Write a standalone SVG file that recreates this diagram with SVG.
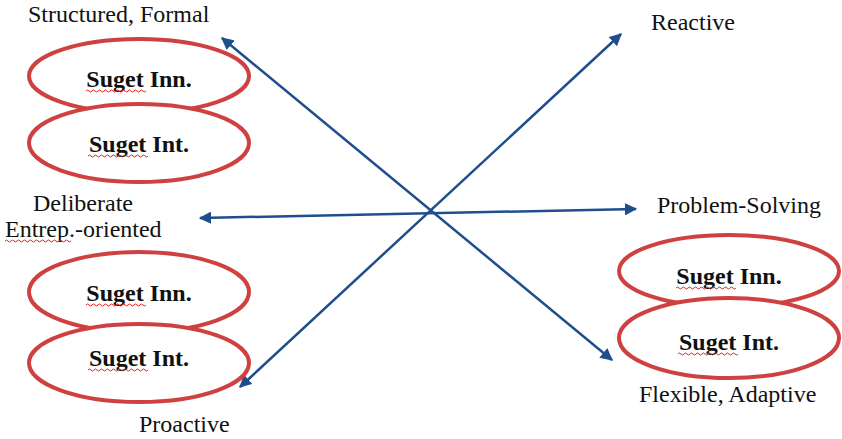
<svg xmlns="http://www.w3.org/2000/svg" width="842" height="439" viewBox="0 0 842 439">
<style>
.lbl{font-family:"Liberation Serif","Times New Roman",serif;font-size:24px;fill:#111}
.nt{font-family:"Liberation Serif","Times New Roman",serif;font-size:24px;font-weight:bold;fill:#111;text-anchor:middle}
.ell{fill:#fff;stroke:#CF4141;stroke-width:4}
.wav{fill:none;stroke:#E02020;stroke-width:1}
.con{stroke:#1E4E8C;stroke-width:2.5;fill:none;marker-start:url(#ah);marker-end:url(#ah)}
</style>
<defs>
<marker id="ah" viewBox="0 0 10 10" refX="9" refY="5" markerWidth="5" markerHeight="5" orient="auto-start-reverse" markerUnits="strokeWidth">
<path d="M0,0 L10,5 L0,10 z" fill="#1E4E8C"/>
</marker>
<path id="wv" d="M0,0 q1.5,-2 3,0 t3,0 t3,0 t3,0 t3,0 t3,0 t3,0 t3,0 t3,0 t3,0 t3,0 t3,0 t3,0 t3,0 t3,0 t3,0 t3,0 t3,0 t3,0 t3,0" class="wav"/>
<path id="wv2" d="M0,0 q1.5,-2 3,0 t3,0 t3,0 t3,0 t3,0 t3,0 t3,0 t3,0 t3,0 t3,0 t3,0 t3,0 t3,0 t3,0 t3,0 t3,0 t3,0 t3,0 t3,0 t3,0 t3,0 t3,0" class="wav"/>
</defs>
<rect width="842" height="439" fill="#fff"/>
<g id="connectors">
<line class="con" x1="222" y1="38" x2="612" y2="360"/>
<line class="con" x1="621" y1="34" x2="240" y2="387"/>
<line class="con" x1="200" y1="218" x2="636" y2="209"/>
</g>
<g id="tl-inn">
<ellipse class="ell" cx="139" cy="76" rx="110" ry="37"/>
<text class="nt" x="139" y="87">Suget Inn.</text>
<use href="#wv" x="86" y="91"/>
</g>
<g id="tl-int">
<ellipse class="ell" cx="139" cy="143" rx="110" ry="39"/>
<text class="nt" x="139" y="152">Suget Int.</text>
<use href="#wv" x="88" y="156"/>
</g>
<g id="bl-inn">
<ellipse class="ell" cx="139" cy="292" rx="110" ry="40"/>
<text class="nt" x="139" y="301">Suget Inn.</text>
<use href="#wv" x="86" y="305"/>
</g>
<g id="bl-int">
<ellipse class="ell" cx="139" cy="363" rx="110" ry="39"/>
<text class="nt" x="139" y="366">Suget Int.</text>
<use href="#wv" x="88" y="370"/>
</g>
<g id="r-inn">
<ellipse class="ell" cx="729" cy="271" rx="110" ry="36"/>
<text class="nt" x="729" y="284">Suget Inn.</text>
<use href="#wv" x="676" y="288"/>
</g>
<g id="r-int">
<ellipse class="ell" cx="729" cy="338" rx="110" ry="40"/>
<text class="nt" x="729" y="350">Suget Int.</text>
<use href="#wv" x="678" y="354"/>
</g>
<g id="labels">
<text class="lbl" x="28" y="22">Structured, Formal</text>
<text class="lbl" x="651" y="30">Reactive</text>
<text class="lbl" x="83" y="211" text-anchor="middle">Deliberate</text>
<text class="lbl" x="5" y="237">Entrep.-oriented</text>
<use href="#wv2" x="5" y="241"/>
<text class="lbl" x="657" y="213">Problem-Solving</text>
<text class="lbl" x="639" y="402">Flexible, Adaptive</text>
<text class="lbl" x="139" y="432">Proactive</text>
</g>
</svg>
